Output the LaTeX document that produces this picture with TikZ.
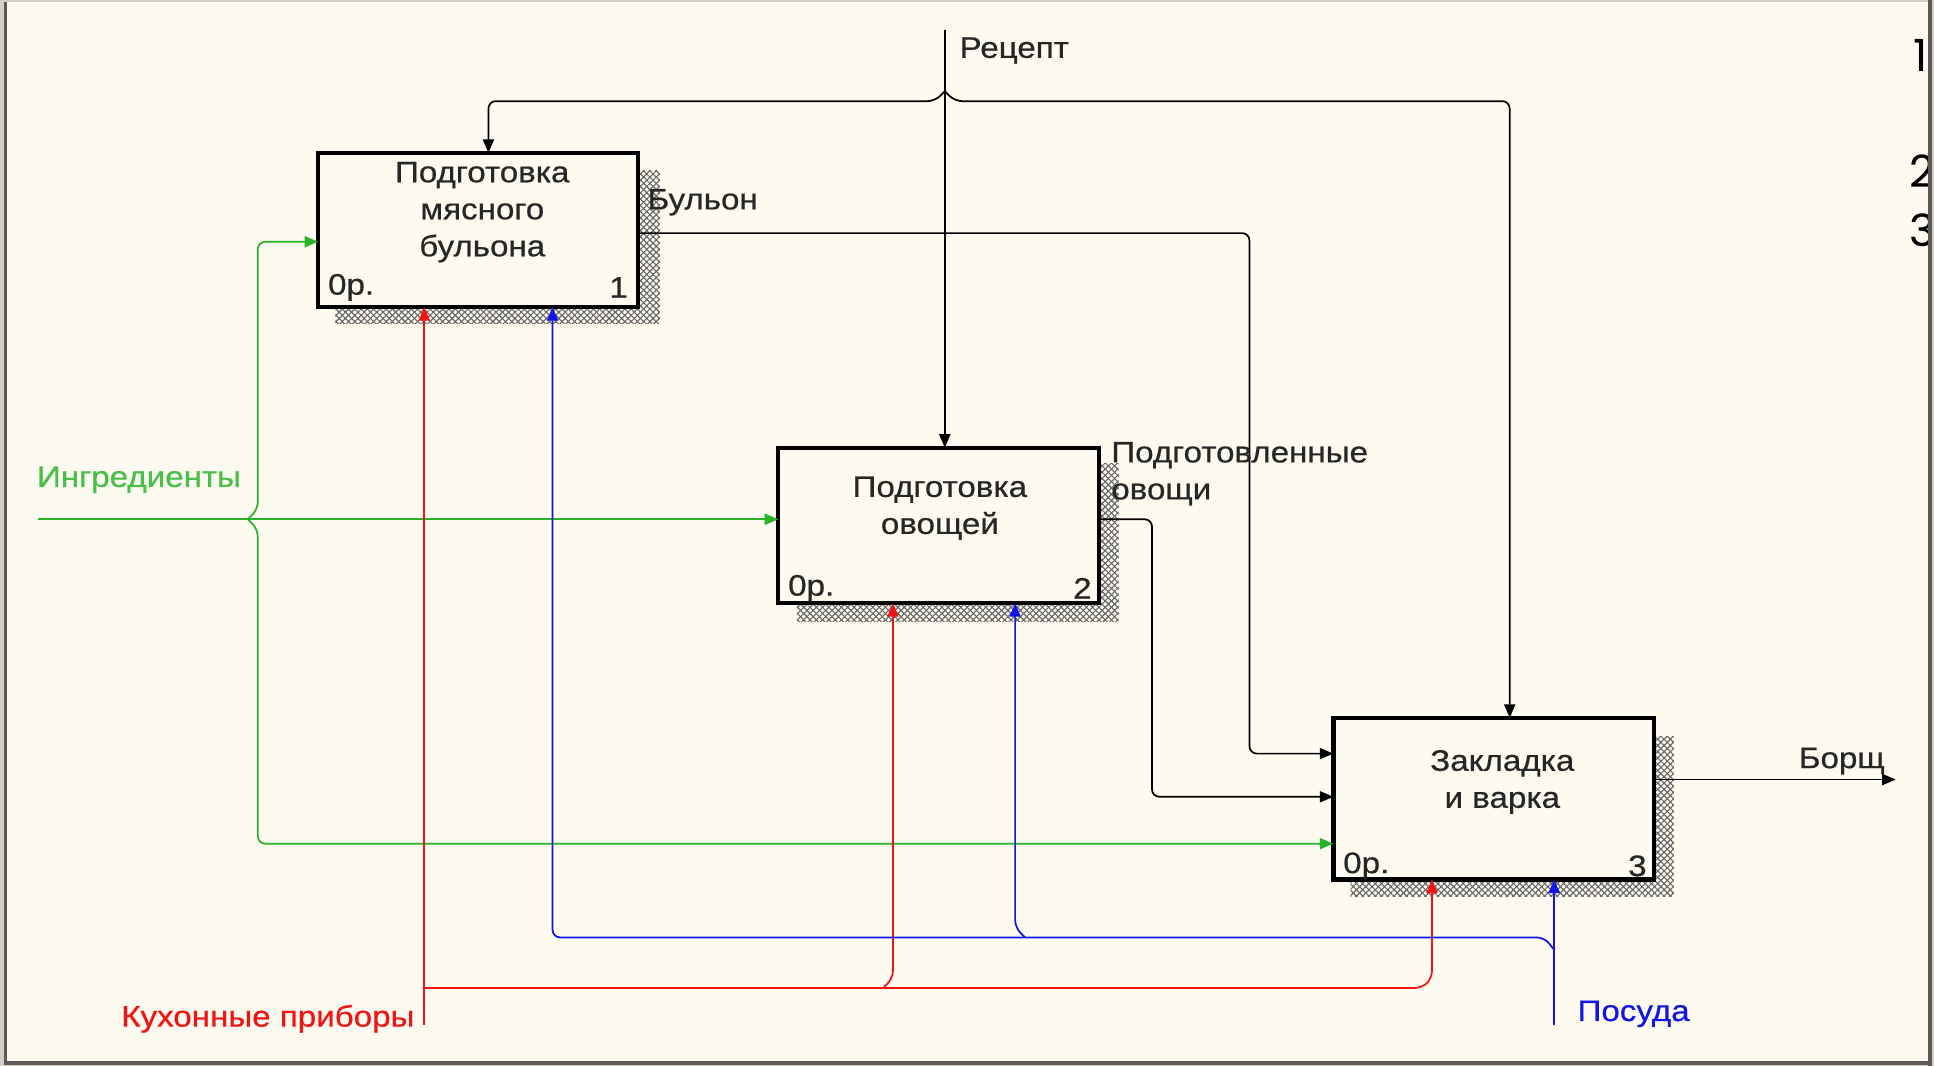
\documentclass[tikz,border=0pt]{standalone}
\usepackage{fontspec}
\setmainfont{Liberation Sans}[FakeStretch=1.12,FakeBold=0.6]
\newfontfamily\digitfont{Poppins}
\usetikzlibrary{arrows.meta,patterns,patterns.meta}
\definecolor{bg}{RGB}{253,250,240}
\definecolor{framegray}{RGB}{212,208,200}
\definecolor{framedark}{RGB}{90,90,90}
\definecolor{idefgreen}{RGB}{40,180,40}
\definecolor{idefred}{RGB}{240,20,20}
\definecolor{idefblue}{RGB}{20,20,230}
\begin{document}
\begin{tikzpicture}[x=1pt,y=-1pt,
  every node/.style={font=\fontsize{24}{30}\selectfont, inner sep=0pt, outer sep=0pt},
  conn/.style={line width=1.4pt, rounded corners=6pt},
  tip/.style={-{Triangle[length=11pt,width=9pt]}},
  fbox/.style={draw, line width=3.5pt, fill=bg, anchor=north west},
  shadowA/.style={pattern={Lines[angle=45,distance=3.6pt,line width=0.9pt]}, pattern color=black!60},
  shadowB/.style={pattern={Lines[angle=-45,distance=3.6pt,line width=0.9pt]}, pattern color=black!60},
  boxtext/.style={align=center, text=black!85},
  lbl/.style={text=black!85}
]
\useasboundingbox (0,0) rectangle (1568,864);
% frame and background
\fill[framegray] (0,0) rectangle (1568,864);
\fill[bg] (3,2) rectangle (1563,861);
\draw[framedark, line width=3pt] (4.5,2) -- (4.5,861);
\draw[framedark, line width=3pt] (1564.5,0) -- (1564.5,864);
\draw[framedark, line width=2.5pt] (3,861.8) -- (1566,861.8);

% side numbers (clipped by frame)
\begin{scope}
\clip (3,2) rectangle (1563,861);
\node[anchor=east, font=\digitfont\fontsize{36}{36}\selectfont] (n1) at (1563,45) {1};
\node[anchor=east, font=\digitfont\fontsize{36}{36}\selectfont] (n2) at (1569,139) {2};
\node[anchor=east, font=\digitfont\fontsize{36}{36}\selectfont] (n3) at (1569,187) {3};
\end{scope}

% shadows
\fill[shadowA] (272,138) rectangle (535,262);
\fill[shadowB] (272,138) rectangle (535,262);
\fill[shadowA] (646,376) rectangle (907,504);
\fill[shadowB] (646,376) rectangle (907,504);
\fill[shadowA] (1095,597) rectangle (1357,727);
\fill[shadowB] (1095,597) rectangle (1357,727);

% boxes
\node[fbox, minimum width=259pt, minimum height=125pt] (b1) at (258,124) {};
\node[fbox, minimum width=260pt, minimum height=126pt] (b2) at (631,363) {};
\node[fbox, minimum width=260pt, minimum height=131pt] (b3) at (1081,582) {};

\node[boxtext] (t1) at (391,172) {Подготовка\\мясного\\бульона};
\node[boxtext] (t2) at (762,412) {Подготовка\\овощей};
\node[boxtext] (t3) at (1218,634) {Закладка\\и варка};

\node[anchor=west, lbl] (c1) at (266,233) {0р.};
\node[anchor=east, lbl] (d1) at (509,233) {1};
\node[anchor=west, lbl] (c2) at (639,477) {0р.};
\node[anchor=east, lbl] (d2) at (885,477) {2};
\node[anchor=west, lbl] (c3) at (1089,702) {0р.};
\node[anchor=east, lbl] (d3) at (1335,702) {3};

% coordinates
\coordinate (rT) at (766,24);
\coordinate (rJ) at (766,74);
\coordinate (rL) at (396,82);
\coordinate (rR) at (1224,82);
\coordinate (bulA) at (517,189);
\coordinate (bulB) at (1013,189);
\coordinate (bulC) at (1013,611);
\coordinate (ovA) at (891,421);
\coordinate (ovB) at (934,421);
\coordinate (ovC) at (934,646);
\coordinate (borA) at (1341,632);
\coordinate (borB) at (1537,632);
\coordinate (gL) at (31,421);
\coordinate (gJ) at (201,421);
\coordinate (gTop) at (209,196);
\coordinate (gBot) at (209,684);
\coordinate (kT) at (344,831);
\coordinate (kJ) at (344,801);
\coordinate (kM) at (716,801);
\coordinate (kR) at (1161,801);
\coordinate (kM2) at (724,801);
\coordinate (pT) at (1260,831);
\coordinate (pJ) at (1260,770);
\coordinate (pL) at (448,760);
\coordinate (pM) at (831,760);
\coordinate (pM2) at (823,760);

% Рецепт (control)
\draw[conn,tip] (rT) -- (rT |- b2.north);
\draw[conn,tip] (rJ) -- (758,82) -- (rL) -- (rL |- b1.north);
\draw[conn,tip] (rJ) -- (774,82) -- (rR) -- (rR |- b3.north);
\node[anchor=west, lbl] (lrec) at (778,41) {Рецепт};

% Бульон
\draw[conn,tip] (bulA) -- (bulB) -- (bulC) -- (bulC -| b3.west);
\node[anchor=west, lbl] (lbul) at (525,164) {Бульон};

% Подготовленные овощи
\draw[conn,tip] (ovA) -- (ovB) -- (ovC) -- (ovC -| b3.west);
\node[anchor=west, align=left, lbl] (lov) at (901,384) {Подготовленные\\овощи};

% Борщ
\draw[line width=1.4pt,tip] (borA) -- (borB);
\node[anchor=east, lbl] (lbor) at (1528,617) {Борщ};

% Ингредиенты
\draw[conn,tip,idefgreen] (gL) -- (gL -| b2.west);
\draw[conn,tip,idefgreen] (gJ) -- (209,413) -- (gTop) -- (gTop -| b1.west);
\draw[conn,tip,idefgreen] (gJ) -- (209,429) -- (gBot) -- (gBot -| b3.west);
\node[anchor=west, text=idefgreen!85!white] (ling) at (30,389) {Ингредиенты};

% Кухонные приборы
\draw[conn,tip,idefred] (kT) -- (kT |- b1.south);
\draw[conn,tip,idefred] (kJ) -- (1153,801) -- (1161,793) -- (kR |- b3.south);
\draw[conn,tip,idefred] (kM) -- (724,793) -- (kM2 |- b2.south);
\node[anchor=east, text=idefred] (lkuh) at (336,826) {Кухонные приборы};

% Посуда
\draw[conn,tip,idefblue] (pT) -- (pT |- b3.south);
\draw[conn,tip,idefblue] (pJ) -- (1252,760) -- (pL) -- (pL |- b1.south);
\draw[conn,tip,idefblue] (pM) -- (823,752) -- (pM2 |- b2.south);
\node[anchor=west, text=idefblue] (lpos) at (1279,822) {Посуда};
\end{tikzpicture}
\end{document}
